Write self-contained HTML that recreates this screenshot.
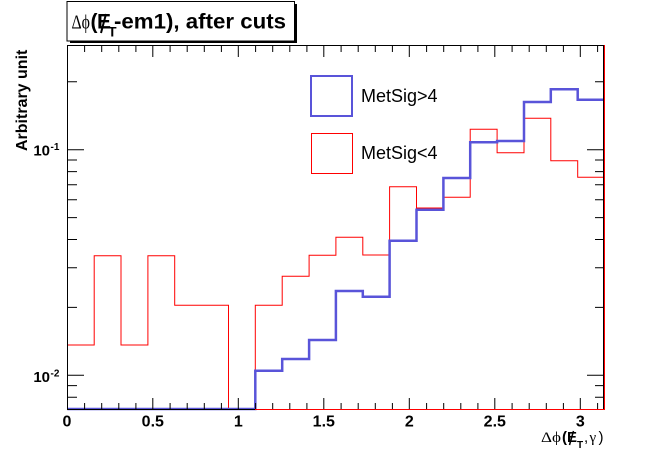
<!DOCTYPE html>
<html><head><meta charset="utf-8"><style>
html,body{margin:0;padding:0;background:#fff;}
svg{display:block;}
.s{font-family:"Liberation Sans",Arial,sans-serif;}
.r{font-family:"Liberation Serif","DejaVu Serif",serif;}
</style></head><body>
<svg width="672" height="456" viewBox="0 0 672 456" xmlns="http://www.w3.org/2000/svg">
<rect x="0" y="0" width="672" height="456" fill="#fff"/>
<!-- title box -->
<rect x="70" y="40.5" width="227" height="2.5" fill="#000"/>
<rect x="294.5" y="4" width="2.5" height="39" fill="#000"/>
<rect x="67" y="1.5" width="227.5" height="39.5" fill="#fff" stroke="#000" stroke-width="1"/>
<text class="r" x="71.5" y="28.5" font-size="20" textLength="18.5" lengthAdjust="spacingAndGlyphs">Δϕ</text>
<text class="s" x="90.5" y="28.5" font-size="21" font-weight="bold">(</text>
<text class="s" x="97" y="28.5" font-size="21" font-weight="bold">E</text>
<line x1="101" y1="33" x2="106" y2="14" stroke="#000" stroke-width="2"/>
<text class="s" x="108" y="36.5" font-size="14" font-weight="bold">T</text>
<text class="s" x="114" y="28.5" font-size="21" font-weight="bold" textLength="172" lengthAdjust="spacingAndGlyphs">-em1), after cuts</text>

<!-- histograms -->
<path d="M67.3 345 H94.2 V255.7 H121 V345 H147.9 V255.7 H174.7 V305.3 H228.5 V409.5 H255.3 V305.3 H282.2 V276.3 H309.1 V255.3 H335.9 V237.3 H362.8 V255 H389.6 V186.7 H416.5 V208 H443.4 V197.3 H470.2 V129.3 H497.1 V152.7 H524 V118.3 H550.8 V160.7 H577.7 V177.3 H604.5" fill="none" stroke="#ff0000" stroke-width="1"/>
<path d="M67.3 409 H255.3 V370.7 H282.2 V359 H309.1 V340 H335.9 V291 H362.8 V296.7 H389.6 V240.7 H416.5 V209.7 H443.4 V178 H470.2 V142.3 H497.1 V141 H524 V102 H550.8 V89.3 H577.7 V99.7 H604" fill="none" stroke="#5954d9" stroke-width="2.5"/>

<!-- frame -->
<rect x="67.5" y="45.5" width="536" height="364" fill="none" stroke="#000" stroke-width="1"/>
<line x1="255" y1="409.5" x2="605" y2="409.5" stroke="#ff0000" stroke-width="1"/>
<line x1="604.5" y1="45" x2="604.5" y2="410" stroke="#ff0000" stroke-width="1"/>

<!-- x ticks -->
<g stroke="#000" stroke-width="1">
<path d="M67.5 409 V398 M84.6 409 V403 M101.7 409 V403 M118.8 409 V403 M135.9 409 V403 M152.8 409 V398 M170.1 409 V403 M187.2 409 V403 M204.3 409 V403 M221.4 409 V403 M238.3 409 V398 M255.6 409 V403 M272.7 409 V403 M289.8 409 V403 M306.9 409 V403 M323.8 409 V398 M341.1 409 V403 M358.2 409 V403 M375.3 409 V403 M392.4 409 V403 M409.3 409 V398 M426.6 409 V403 M443.7 409 V403 M460.8 409 V403 M477.9 409 V403 M494.8 409 V398 M512.1 409 V403 M529.2 409 V403 M546.3 409 V403 M563.4 409 V403 M580.3 409 V398 M597.6 409 V403"/>
<path d="M67.5 46 V57 M84.6 46 V52 M101.7 46 V52 M118.8 46 V52 M135.9 46 V52 M152.8 46 V57 M170.1 46 V52 M187.2 46 V52 M204.3 46 V52 M221.4 46 V52 M238.3 46 V57 M255.6 46 V52 M272.7 46 V52 M289.8 46 V52 M306.9 46 V52 M323.8 46 V57 M341.1 46 V52 M358.2 46 V52 M375.3 46 V52 M392.4 46 V52 M409.3 46 V57 M426.6 46 V52 M443.7 46 V52 M460.8 46 V52 M477.9 46 V52 M494.8 46 V57 M512.1 46 V52 M529.2 46 V52 M546.3 46 V52 M563.4 46 V52 M580.3 46 V57 M597.6 46 V52"/>
<!-- y ticks left -->
<path d="M68 149.7 H84 M68 375.3 H84 M68 81.8 H77 M68 160 H77 M68 171.6 H77 M68 184.7 H77 M68 199.8 H77 M68 217.6 H77 M68 239.5 H77 M68 267.7 H77 M68 307.4 H77 M68 385.6 H77 M68 397.2 H77"/>
<!-- y ticks right -->
<path d="M603 149.7 H587 M603 375.3 H587 M603 81.8 H595 M603 160 H595 M603 171.6 H595 M603 184.7 H595 M603 199.8 H595 M603 217.6 H595 M603 239.5 H595 M603 267.7 H595 M603 307.4 H595 M603 385.6 H595 M603 397.2 H595"/>
</g>

<!-- x tick labels -->
<g class="s" font-size="16" font-weight="bold" text-anchor="middle" fill="#000">
<text x="67" y="426.5">0</text>
<text x="152.8" y="426.5">0.5</text>
<text x="238.3" y="426.5">1</text>
<text x="323.8" y="426.5">1.5</text>
<text x="409.3" y="426.5">2</text>
<text x="494.8" y="426.5">2.5</text>
<text x="580.3" y="426.5">3</text>
</g>
<!-- y tick labels -->
<g class="s" font-weight="bold" fill="#000">
<text x="50" y="155.5" font-size="15" text-anchor="end">10</text>
<text x="50.5" y="150" font-size="10">-1</text>
<text x="50" y="382" font-size="15" text-anchor="end">10</text>
<text x="50.5" y="376.5" font-size="10">-2</text>
</g>

<!-- axis titles -->
<text class="s" transform="translate(27,151) rotate(-90)" font-size="16" font-weight="bold">Arbitrary unit</text>
<text class="r" x="541" y="442" font-size="15" textLength="20" lengthAdjust="spacingAndGlyphs">Δϕ</text>
<text class="s" x="562" y="442" font-size="15" font-weight="bold">(</text>
<text class="s" x="567" y="442" font-size="15" font-weight="bold">E</text>
<line x1="569.5" y1="445" x2="573.5" y2="431" stroke="#000" stroke-width="1.5"/>
<text class="s" x="577" y="448" font-size="10" font-weight="bold">T</text>
<text class="s" x="584" y="442" font-size="15">,</text>
<text class="r" x="589.5" y="442" font-size="15">γ</text>
<text class="s" x="598.5" y="442" font-size="15">)</text>

<!-- legend -->
<rect x="311" y="76" width="41" height="40" fill="none" stroke="#5954d9" stroke-width="2"/>
<rect x="311.5" y="133.5" width="41" height="40" fill="none" stroke="#ff0000" stroke-width="1"/>
<text class="s" x="361" y="102" font-size="18" fill="#000">MetSig&gt;4</text>
<text class="s" x="361" y="159" font-size="18" fill="#000">MetSig&lt;4</text>
</svg>
</body></html>
